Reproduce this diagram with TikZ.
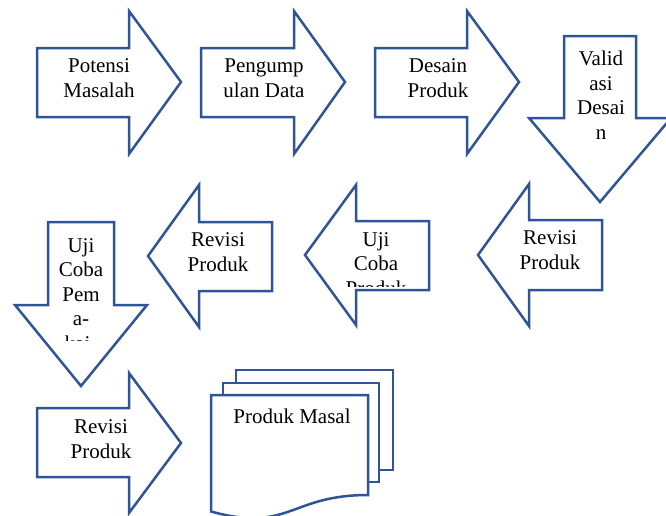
\documentclass[tikz,border=0pt]{standalone}
\usepackage{fontspec}
\setmainfont{Liberation Serif}
\definecolor{ablue}{HTML}{2F5597}
\tikzset{
  shp/.style={draw=ablue, fill=white, line width=2.5pt, line join=miter},
  txt/.style={font=\fontsize{21}{24.5}\selectfont, align=center, inner sep=0pt, anchor=base, text=black}
}
\begin{document}
\begin{tikzpicture}[x=1pt,y=-1pt]
\useasboundingbox (0,0) rectangle (666,515);
\begin{scope}
\clip (0,0) rectangle (666,515);
% row 1
\draw[shp] (37,48)--(129,48)--(129,11)--(181,82)--(129,154)--(129,117)--(37,117)--cycle;
\draw[shp] (201,48)--(294,48)--(294,11)--(345,82)--(294,154)--(294,117)--(201,117)--cycle;
\draw[shp] (375,48)--(467,48)--(467,11)--(519,82)--(467,154)--(467,117)--(375,117)--cycle;
\draw[shp] (564,36)--(636,36)--(636,118)--(671,118)--(600,202)--(529,118)--(564,118)--cycle;
% row 2
\draw[shp] (478,255)--(529,184)--(529,220)--(602,220)--(602,290)--(529,290)--(529,326)--cycle;
\draw[shp] (305,255)--(356,185)--(356,221)--(429,221)--(429,290)--(356,290)--(356,325)--cycle;
\draw[shp] (148,256)--(199,185)--(199,222)--(272,222)--(272,291)--(199,291)--(199,327)--cycle;
\draw[shp] (48,222)--(114,222)--(114,305)--(147,305)--(81,386)--(15,305)--(48,305)--cycle;
% row 3
\draw[shp] (37,408)--(129,408)--(129,373)--(181,443)--(129,513)--(129,477)--(37,477)--cycle;
% multi document
\draw[shp] (236,370) rectangle (393,470);
\draw[shp] (223,383) rectangle (379,482);
\draw[shp] (211,395)--(368,395)--(368,495) .. controls (289.5,495) and (289.5,533) .. (211,511.5)--cycle;
\end{scope}
% texts (anchor base = last line's baseline)
\node[txt] (t1) at (99,97) {Potensi\\Masalah};
\node[txt] (t2) at (264,97) {Pengump\\ulan Data};
\node[txt] (t3) at (438,97) {Desain\\Produk};
\node[txt] (t4) at (601,139) {Valid\\asi\\Desai\\n};
\node[txt] (t5) at (550,269) {Revisi\\Produk};
\begin{scope}
\clip (300,200) rectangle (430,286);
\node[txt] (t6) at (376,295) {Uji\\Coba\\Produk};
\end{scope}
\node[txt] (t7) at (218,271) {Revisi\\Produk};
\begin{scope}
\clip (40,230) rectangle (120,340);
\node[txt] (t8) at (81,350) {Uji\\Coba\\Pem\\a-\\kai-};
\end{scope}
\node[txt] (t9) at (101,458) {Revisi\\Produk};
\node[txt] (t10) at (292,423) {Produk Masal};
\end{tikzpicture}
\end{document}
